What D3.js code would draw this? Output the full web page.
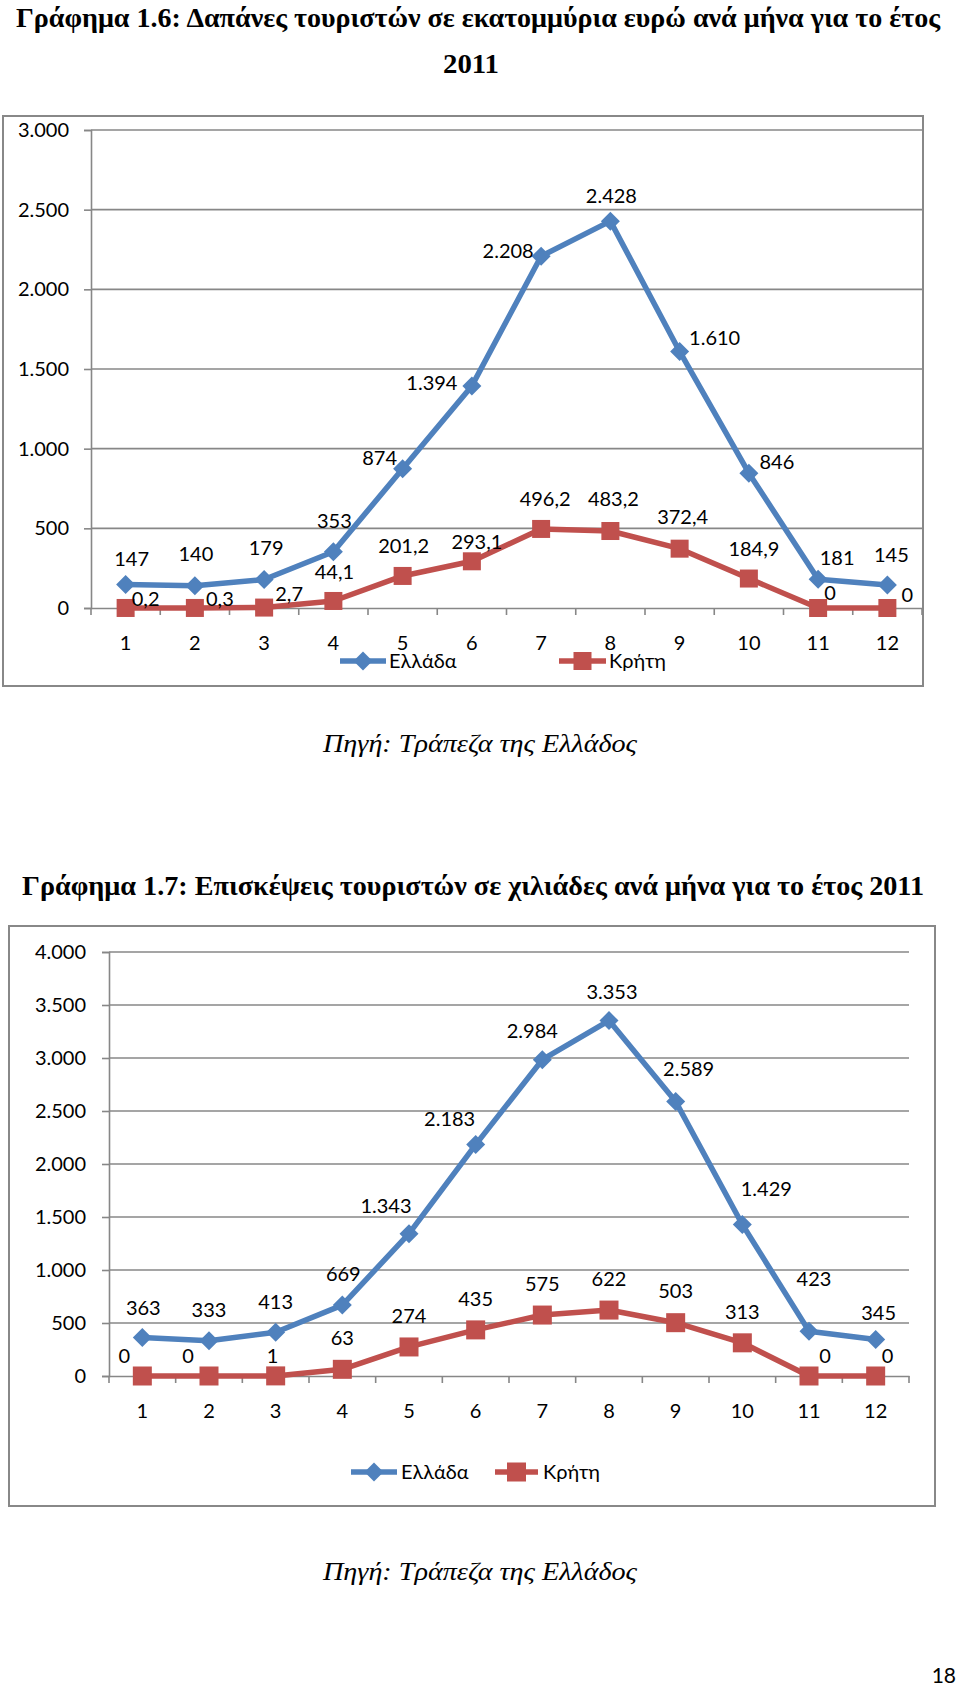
<!DOCTYPE html>
<html><head><meta charset="utf-8">
<script src="https://cdn.jsdelivr.net/npm/d3@7"></script>
<style>html,body{margin:0;padding:0;background:#fff}svg{display:block}</style>
</head><body>
<script>
// ---------- DATA ----------
const months = ["1","2","3","4","5","6","7","8","9","10","11","12"];
const seriesNames = ["Ελλάδα", "Κρήτη"];
// Chart 1.6: spending (million €)
const spendGreece = [147, 140, 179, 353, 874, 1394, 2208, 2428, 1610, 846, 181, 145];
const spendCrete  = [0.2, 0.3, 2.7, 44.1, 201.2, 293.1, 496.2, 483.2, 372.4, 184.9, 0, 0];
const spendTicks  = [0, 500, 1000, 1500, 2000, 2500, 3000];
// Chart 1.7: visits (thousands)
const visitGreece = [363, 333, 413, 669, 1343, 2183, 2984, 3353, 2589, 1429, 423, 345];
const visitCrete  = [0, 0, 1, 63, 274, 435, 575, 622, 503, 313, 0, 0];
const visitTicks  = [0, 500, 1000, 1500, 2000, 2500, 3000, 3500, 4000];

const title1a = "Γράφημα 1.6: Δαπάνες τουριστών σε εκατομμύρια ευρώ ανά μήνα για το έτος";
const title1b = "2011";
const title2  = "Γράφημα 1.7: Επισκέψεις τουριστών σε χιλιάδες ανά μήνα για το έτος 2011";
const sourceText = "Πηγή: Τράπεζα της Ελλάδος";
const pageNumber = "18";

// ---------- LAYOUT (label offsets relative to points) ----------
const offSpendGreece = [[6,-26],[1,-32],[2,-31],[1,-31],[-23,-11],[-40,-3],[-33,-5],[1,-25],[35,-13],[28,-11],[19,-21],[4,-30]];
const offSpendCrete  = [[20,-9],[25,-9],[25,-14],[1,-29],[1,-30],[5,-19],[4,-30],[3,-32],[3,-32],[5,-30],[12,-15],[20,-13]];
const offVisitGreece = [[1,-30],[0,-31],[0,-30],[1,-31],[-23,-28],[-26,-26],[-10,-29],[3,-29],[13,-33],[24,-36],[5,-52],[3,-26]];
const offVisitCrete  = [[-18,-20],[-21,-20],[-3,-20],[0,-31],[0,-31],[0,-31],[0,-31],[0,-31],[0,-32],[0,-31],[16,-20],[12,-20]];

const BLUE = "#4F81BD", RED = "#C0504D", GRID = "#878787", BORDER = "#888888";
const FONT = "Lato, 'Open Sans', sans-serif";
const SERIF = "'Liberation Serif', 'Times New Roman', serif";

const loc = d3.formatLocale({decimal: ",", thousands: ".", grouping: [3], currency: ["", "€"]});
const fInt = loc.format(",d");
const fDec = loc.format(",.1f");

const svg = d3.select("body").append("svg").attr("width", 960).attr("height", 1686);
svg.append("rect").attr("width", 960).attr("height", 1686).attr("fill", "#fff");

function serifText(txt, x, y, opts) {
  const t = svg.append("text").attr("x", x).attr("y", y).attr("text-anchor", "middle")
    .attr("font-family", SERIF).attr("font-size", opts.size)
    .attr("font-weight", opts.bold ? "bold" : "normal")
    .attr("font-style", opts.italic ? "italic" : "normal").attr("fill", "#000").text(txt);
  if (opts.len) t.attr("textLength", opts.len).attr("lengthAdjust", "spacingAndGlyphs");
  return t;
}
serifText(title1a, 478, 27, {size: 27, bold: true, len: 924});
serifText(title1b, 471, 73, {size: 27, bold: true, len: 56});
serifText(sourceText, 480, 752, {size: 25, italic: true, len: 314});
serifText(title2, 473, 895, {size: 27, bold: true, len: 902});
serifText(sourceText, 480, 1580, {size: 25, italic: true, len: 314});
svg.append("text").attr("x", 956).attr("y", 1683).attr("text-anchor", "end")
  .attr("font-family", FONT).attr("font-size", 21).attr("fill", "#000").text(pageNumber);

function diamond(s) { return `M0,${-s}L${s},0L0,${s}L${-s},0Z`; }

function drawChart(cfg) {
  const g = svg.append("g");
  g.append("rect").attr("x", cfg.box[0]).attr("y", cfg.box[1])
    .attr("width", cfg.box[2] - cfg.box[0]).attr("height", cfg.box[3] - cfg.box[1])
    .attr("fill", "#fff").attr("stroke", BORDER).attr("stroke-width", 2);

  const x = d3.scaleBand().domain(months).range([cfg.plot[0], cfg.plot[2]]).padding(0);
  const y = d3.scaleLinear().domain([0, d3.max(cfg.ticks)]).range([cfg.plot[3], cfg.plot[1]]);
  const cx = m => x(m) + x.bandwidth() / 2;

  g.append("g").selectAll("line").data(cfg.ticks.filter(t => t > 0)).join("line")
    .attr("x1", cfg.plot[0]).attr("x2", cfg.plot[2])
    .attr("y1", d => y(d)).attr("y2", d => y(d))
    .attr("stroke", GRID).attr("stroke-width", 1.6);

  const ya = g.append("g").attr("transform", `translate(${cfg.plot[0]},0)`)
    .call(d3.axisLeft(y).tickValues(cfg.ticks).tickSize(7).tickPadding(cfg.ypad).tickFormat(fInt));
  ya.select(".domain").attr("stroke", GRID).attr("stroke-width", 1.6);
  ya.selectAll(".tick line").attr("stroke", GRID).attr("stroke-width", 1.6);
  ya.selectAll("text").attr("font-family", FONT).attr("font-size", 20).attr("fill", "#000");

  const xa = g.append("g").attr("transform", `translate(0,${cfg.plot[3]})`)
    .call(d3.axisBottom(x).tickSize(0).tickPadding(cfg.xpad));
  xa.select(".domain").attr("stroke", GRID).attr("stroke-width", 1.6);
  xa.selectAll("text").attr("font-family", FONT).attr("font-size", 20).attr("fill", "#000");
  g.append("g").selectAll("line").data(months.map(m => x(m)).concat([x.range()[1]])).join("line")
    .attr("x1", d => d).attr("x2", d => d).attr("y1", cfg.plot[3]).attr("y2", cfg.plot[3] + 7)
    .attr("stroke", GRID).attr("stroke-width", 1.6);

  const line = d3.line().x((d, i) => cx(months[i])).y(d => y(d));

  const series = [
    {vals: cfg.greece, color: BLUE, marker: "d", fmt: cfg.fmtG, off: cfg.offG},
    {vals: cfg.crete, color: RED, marker: "s", fmt: cfg.fmtC, off: cfg.offC}
  ];
  series.forEach(s => {
    g.append("path").datum(s.vals).attr("d", line).attr("fill", "none")
      .attr("stroke", s.color).attr("stroke-width", 5.5).attr("stroke-linejoin", "round");
    const mk = g.append("g").selectAll("g").data(s.vals).join("g")
      .attr("transform", (d, i) => `translate(${cx(months[i])},${y(d)})`);
    if (s.marker === "d") mk.append("path").attr("d", diamond(cfg.dSize)).attr("fill", s.color);
    else mk.append("rect").attr("x", -cfg.sSize / 2).attr("y", -cfg.sSize / 2)
      .attr("width", cfg.sSize).attr("height", cfg.sSize).attr("fill", s.color);
  });
  series.forEach(s => {
    g.append("g").selectAll("text").data(s.vals).join("text")
      .attr("x", (d, i) => cx(months[i]) + s.off[i][0])
      .attr("y", (d, i) => y(d) + s.off[i][1])
      .attr("dy", "0.35em").attr("text-anchor", "middle")
      .attr("font-family", FONT).attr("font-size", 20).attr("fill", "#000")
      .text(d => s.fmt(d));
  });

  cfg.legend.forEach((L, i) => {
    const col = i === 0 ? BLUE : RED;
    g.append("line").attr("x1", L[0]).attr("x2", L[1]).attr("y1", L[3]).attr("y2", L[3])
      .attr("stroke", col).attr("stroke-width", 5.5);
    const mx = (L[0] + L[1]) / 2;
    if (i === 0) g.append("path").attr("d", diamond(cfg.dSize)).attr("fill", col)
      .attr("transform", `translate(${mx},${L[3]})`);
    else g.append("rect").attr("x", mx - cfg.sSize / 2).attr("y", L[3] - cfg.sSize / 2)
      .attr("width", cfg.sSize).attr("height", cfg.sSize).attr("fill", col);
    g.append("text").attr("x", L[2]).attr("y", L[3]).attr("dy", "0.35em")
      .attr("font-family", FONT).attr("font-size", 20).attr("fill", "#000").text(seriesNames[i]);
  });
}

drawChart({
  box: [3, 116, 923, 686],
  plot: [91, 130, 922, 608],
  ticks: spendTicks, ypad: 15, xpad: 28,
  greece: spendGreece, crete: spendCrete,
  fmtG: fInt, fmtC: d => d === 0 ? "0" : fDec(d),
  offG: offSpendGreece, offC: offSpendCrete,
  dSize: 9.5, sSize: 18,
  legend: [[340, 386, 389, 661], [559, 606, 609, 661]]
});

drawChart({
  box: [9, 926, 935, 1506],
  plot: [109, 952, 909, 1376],
  ticks: visitTicks, ypad: 16, xpad: 28,
  greece: visitGreece, crete: visitCrete,
  fmtG: fInt, fmtC: fInt,
  offG: offVisitGreece, offC: offVisitCrete,
  dSize: 9.5, sSize: 19,
  legend: [[351, 397, 401, 1472], [495, 538, 543, 1472]]
});
</script>
</body></html>
